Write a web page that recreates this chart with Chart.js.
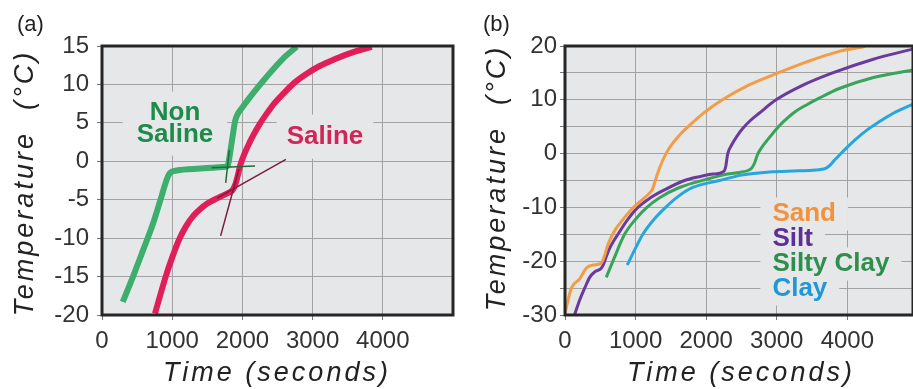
<!DOCTYPE html>
<html>
<head>
<meta charset="utf-8">
<title>Freezing curves</title>
<script src="https://cdn.jsdelivr.net/npm/chart.js@4.4.1/dist/chart.umd.min.js"></script>
<style>
  html, body { margin: 0; padding: 0; background: #fff; overflow: hidden; }
  canvas { position: absolute; top: 0; }
  #chartA { left: 0; }
  #chartB { left: 460px; }
</style>
</head>
<body>
<canvas id="chartA" width="460" height="389"></canvas>
<canvas id="chartB" width="453" height="389"></canvas>
<script>
// axis ticks
const timeTicks = [0, 1000, 2000, 3000, 4000];
const tempTicksA = [-20, -15, -10, -5, 0, 5, 10, 15];
const tempGridB = [-30, -25, -20, -15, -10, -5, 0, 5, 10, 15, 20];
const tempTicksB = [-30, -20, -10, 0, 10, 20];

// (a) non saline vs saline soil, time (s) / temperature (°C)
const nonSalineTime = [295, 446, 588, 731, 850, 921, 969, 1064, 1400, 1730, 1790, 1815, 1840, 1870, 1895, 1930, 1990, 2156, 2346, 2583, 2773];
const nonSalineTemp = [-18.3, -14.9, -11.5, -8.0, -4.5, -2.4, -1.5, -1.2, -0.95, -0.75, -0.6, 0.5, 2.0, 3.8, 5.2, 6.1, 6.9, 8.9, 11.0, 13.4, 14.9];
const salineTime = [755, 830, 907, 1000, 1097, 1200, 1300, 1400, 1500, 1600, 1700, 1800, 1860, 1900, 1935, 1970, 2030, 2100, 2156, 2250, 2346, 2460, 2583, 2750, 2916, 3100, 3295, 3580, 3842];
const salineTemp = [-19.8, -17.4, -15, -12.5, -10.2, -8.4, -7.1, -6.2, -5.5, -5.0, -4.55, -4.1, -3.75, -3.0, -1.8, -0.5, 1.0, 2.4, 3.4, 4.9, 6.2, 7.6, 8.8, 10.3, 11.4, 12.4, 13.2, 14.2, 14.9];

// tangent lines used to pick the freezing point
const salineSteepTime = [1690, 1950];
const salineSteepTemp = [-9.7, -1.0];
const salineFlatTime = [1640, 2620];
const salineFlatTemp = [-4.8, 0.25];
const nonSalineFlatTime = [1560, 2180];
const nonSalineFlatTemp = [-0.85, -0.6];
const nonSalineSteepTime = [1762, 1814];
const nonSalineSteepTemp = [-2.8, 1.5];

// (b) soil textures
const sandTime = [0, 90, 208, 300, 400, 510, 560, 600, 656, 720, 800, 880, 972, 1100, 1200, 1240, 1275, 1330, 1430, 1530, 1640, 1760, 1980, 2230, 2580, 3000, 3414, 3886, 4250];
const sandTemp = [-29.7, -25, -23.3, -21.3, -20.7, -20.4, -19, -17.2, -15.5, -14, -12.6, -11.3, -10, -8.5, -7.3, -6.6, -5.2, -3.0, 0, 2.0, 3.7, 5.2, 7.7, 10, 12.6, 14.9, 17.0, 19.0, 19.9];
const siltTime = [137, 208, 279, 350, 420, 514, 545, 580, 640, 700, 750, 880, 1033, 1200, 1400, 1693, 1900, 2100, 2250, 2280, 2295, 2306, 2360, 2440, 2520, 2630, 2750, 2990, 3350, 3791, 4357, 4950];
const siltTemp = [-29.9, -27.2, -25, -23, -22, -21.3, -20.6, -19.3, -17.4, -16, -15, -12.4, -10, -8.3, -6.8, -5, -4.3, -3.8, -3.3, -2.2, -0.8, 0, 1.6, 3.3, 4.7, 6.2, 7.5, 10, 12.6, 15, 17.5, 19.5];
const siltyClayTime = [585, 679, 844, 1000, 1160, 1340, 1622, 2000, 2300, 2471, 2600, 2650, 2690, 2730, 2790, 2860, 2990, 3084, 3250, 3414, 3600, 3886, 4357, 4950];
const siltyClayTemp = [-23, -20, -15, -12.2, -10, -8.2, -6.3, -4.8, -3.8, -3.5, -3.1, -2.6, -1.6, -0.1, 1.2, 2.4, 4.5, 5.8, 7.7, 9.0, 10.3, 12.1, 14.1, 15.6];
const clayTime = [882, 1010, 1103, 1250, 1425, 1600, 1810, 2188, 2500, 2900, 3300, 3600, 3700, 3760, 3820, 3886, 4000, 4121, 4300, 4451, 4650, 4950];
const clayTemp = [-20.7, -17.3, -15, -12.4, -10, -8, -6.3, -5, -4, -3.4, -3.2, -3.0, -2.7, -2.1, -1.2, -0.3, 1.2, 2.7, 4.6, 5.9, 7.5, 9.3];

const FONT = 'Liberation Sans, Arial, Helvetica, sans-serif';
const PLOT_BG = '#e6e7e9';

const pts = (xs, ys) => xs.map((x, i) => ({ x, y: ys[i] }));

function curve(xs, ys, color, width) {
  return {
    data: pts(xs, ys),
    borderColor: color,
    borderWidth: width,
    pointRadius: 0,
    fill: false,
    cubicInterpolationMode: 'monotone',
  };
}

// plot background, text labels with a cut-out behind them, frame, titles
const panelDecor = {
  id: 'panelDecor',
  beforeDraw(chart) {
    const { ctx, chartArea: a } = chart;
    ctx.save();
    ctx.fillStyle = PLOT_BG;
    ctx.fillRect(a.left, a.top, a.width, a.height);
    ctx.restore();
  },
  beforeDatasetsDraw(chart, args, opts) {
    const { ctx, scales: { x, y } } = chart;
    ctx.save();
    ctx.font = 'bold 26px ' + FONT;
    ctx.textBaseline = 'middle';
    const rows = [];
    for (const note of opts.notes) {
      const cx = x.getPixelForValue(note.x);
      const cy = y.getPixelForValue(note.y);
      const n = note.lines.length;
      note.lines.forEach((line, i) => {
        const w = ctx.measureText(line.text).width;
        rows.push({
          text: line.text,
          color: line.color,
          w,
          x: note.align === 'left' ? cx : cx - w / 2,
          y: cy + (i - (n - 1) / 2) * note.lineHeight,
          h: note.lineHeight,
          padX: note.padX,
          padY: note.padY,
        });
      });
    }
    ctx.fillStyle = PLOT_BG;
    rows.forEach(r => ctx.fillRect(r.x - r.padX, r.y - r.h / 2 - r.padY, r.w + 2 * r.padX, r.h + 2 * r.padY));
    rows.forEach(r => {
      ctx.fillStyle = r.color;
      ctx.fillText(r.text, r.x, r.y);
    });
    ctx.restore();
  },
  afterDatasetsDraw(chart) {
    const { ctx, chartArea: a } = chart;
    ctx.save();
    ctx.strokeStyle = '#262626';
    ctx.lineWidth = 3;
    ctx.strokeRect(a.left, a.top, a.width, a.height);
    ctx.restore();
  },
  afterDraw(chart, args, opts) {
    const { ctx } = chart;
    ctx.save();
    ctx.fillStyle = '#222';
    ctx.font = 'italic 27px ' + FONT;
    ctx.letterSpacing = '3px';
    ctx.textAlign = 'center';
    ctx.textBaseline = 'alphabetic';
    ctx.fillText('Time (seconds)', opts.xTitle[0], opts.xTitle[1]);
    ctx.translate(opts.yTitle[0], opts.yTitle[1]);
    ctx.rotate(-Math.PI / 2);
    ctx.fillText('Temperature  (°C)', 0, 0);
    ctx.restore();

    ctx.save();
    ctx.fillStyle = '#222';
    ctx.font = '22px ' + FONT;
    ctx.textAlign = 'left';
    ctx.fillText(opts.letter, opts.letterPos[0], opts.letterPos[1]);
    ctx.restore();
  },
};

function scales(cfg) {
  return {
    x: {
      type: 'linear',
      min: 0,
      max: cfg.xMax,
      afterBuildTicks: s => { s.ticks = timeTicks.map(v => ({ value: v })); },
      afterFit: s => { s.height = 74; },
      grid: { color: '#a2a2a2', lineWidth: 1, tickLength: 5, tickColor: '#777' },
      border: { display: false },
      ticks: {
        autoSkip: false,
        maxRotation: 0,
        padding: 7,
        color: '#333',
        font: { family: FONT, size: 24 },
        callback: v => String(v),
      },
    },
    y: {
      type: 'linear',
      min: cfg.yMin,
      max: cfg.yMax,
      afterBuildTicks: s => { s.ticks = cfg.yGrid.map(v => ({ value: v })); },
      afterFit: s => { s.width = cfg.yWidth; },
      grid: { color: '#a2a2a2', lineWidth: 1, tickLength: 5, tickColor: '#777' },
      border: { display: false },
      ticks: {
        autoSkip: false,
        padding: cfg.yPad,
        color: '#333',
        font: { family: FONT, size: 24 },
        callback: v => (cfg.yLabels.includes(v) ? String(v) : ''),
      },
    },
  };
}

const baseOptions = {
  responsive: false,
  animation: false,
  events: [],
};

new Chart(document.getElementById('chartA'), {
  type: 'line',
  data: {
    datasets: [
      curve(salineSteepTime, salineSteepTemp, '#7a1c3c', 1.5),
      curve(salineFlatTime, salineFlatTemp, '#7a1c3c', 1.5),
      curve(nonSalineFlatTime, nonSalineFlatTemp, '#1f6b3a', 1.5),
      curve(nonSalineSteepTime, nonSalineSteepTemp, '#1f6b3a', 1.5),
      curve(nonSalineTime, nonSalineTemp, '#3dae6b', 6),
      curve(salineTime, salineTemp, '#e11d5a', 6),
    ],
  },
  options: {
    ...baseOptions,
    layout: { padding: { left: 0, right: 7, top: 46, bottom: 0 } },
    scales: scales({ xMax: 5000, yMin: -20, yMax: 15, yGrid: tempTicksA, yLabels: tempTicksA, yWidth: 102, yPad: 8 }),
    plugins: {
      legend: { display: false },
      tooltip: { enabled: false },
      panelDecor: {
        letter: '(a)',
        letterPos: [17, 31],
        xTitle: [277, 381],
        yTitle: [33, 183],
        notes: [
          {
            x: 1040, y: 4.9, align: 'center', lineHeight: 22, padX: 14, padY: 10,
            lines: [{ text: 'Non', color: '#1e8a4c' }, { text: 'Saline', color: '#1e8a4c' }],
          },
          {
            x: 3177, y: 3.2, align: 'center', lineHeight: 24, padX: 10, padY: 10,
            lines: [{ text: 'Saline', color: '#cf2559' }],
          },
        ],
      },
    },
  },
  plugins: [panelDecor],
});

new Chart(document.getElementById('chartB'), {
  type: 'line',
  data: {
    datasets: [
      curve(sandTime, sandTemp, '#f39c45', 3),
      curve(siltTime, siltTemp, '#6a3a9c', 3),
      curve(siltyClayTime, siltyClayTemp, '#38a35a', 3),
      curve(clayTime, clayTemp, '#27a6dd', 3),
    ],
  },
  options: {
    ...baseOptions,
    layout: { padding: { left: 0, right: 0, top: 46, bottom: 0 } },
    scales: scales({ xMax: 4930, yMin: -30, yMax: 20, yGrid: tempGridB, yLabels: tempTicksB, yWidth: 105, yPad: 3 }),
    plugins: {
      legend: { display: false },
      tooltip: { enabled: false },
      panelDecor: {
        letter: '(b)',
        letterPos: [23, 31],
        xTitle: [281, 381],
        yTitle: [45, 178],
        notes: [
          {
            x: 2938, y: -18.2, align: 'left', lineHeight: 25, padX: 12, padY: 4,
            lines: [
              { text: 'Sand', color: '#f2923c' },
              { text: 'Silt', color: '#5e2f94' },
              { text: 'Silty Clay', color: '#2e8e4c' },
              { text: 'Clay', color: '#1f98d4' },
            ],
          },
        ],
      },
    },
  },
  plugins: [panelDecor],
});
</script>
</body>
</html>
